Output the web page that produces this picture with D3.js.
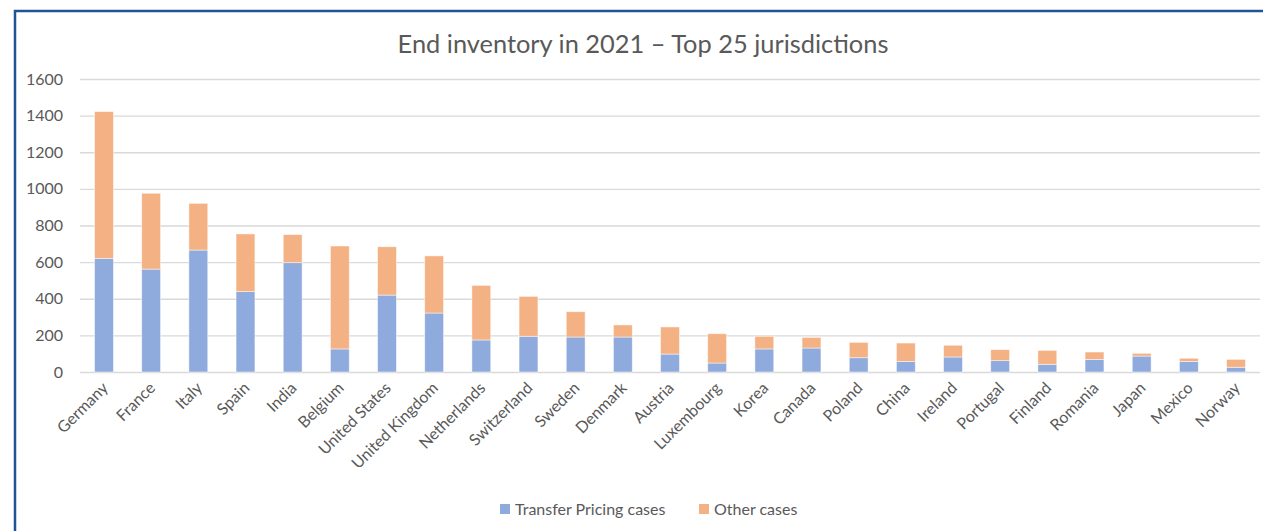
<!DOCTYPE html>
<html>
<head>
<meta charset="utf-8">
<script src="https://cdn.jsdelivr.net/npm/d3@7"></script>
<style>
  body { margin: 0; background: #fff; }
  text { font-family: Lato, "Liberation Sans", sans-serif; fill: #595959; }
</style>
</head>
<body>
<div id="chart"></div>
<script>
"use strict";

var countries = ["Germany", "France", "Italy", "Spain", "India", "Belgium", "United States",
  "United Kingdom", "Netherlands", "Switzerland", "Sweden", "Denmark", "Austria", "Luxembourg",
  "Korea", "Canada", "Poland", "China", "Ireland", "Portugal", "Finland", "Romania", "Japan",
  "Mexico", "Norway"];
var transferPricing = [620, 562, 666, 439, 597, 126, 420, 322, 175, 195, 191, 191, 98, 49,
  126, 131, 78, 58, 82, 62, 42, 69, 87, 58, 26];
var otherCases = [802, 414, 255, 315, 153, 562, 264, 312, 298, 218, 138, 66, 148, 160,
  69, 58, 84, 100, 64, 60, 76, 40, 15, 17, 43];
var yTicks = [0, 200, 400, 600, 800, 1000, 1200, 1400, 1600];
var seriesNames = ["Transfer Pricing cases", "Other cases"];
var colors = ["#8FAADC", "#F4B183"];

var w = 1263;
var h = 531;

var svg = d3.select("#chart")
  .append("svg")
  .attr("width", w)
  .attr("height", h);

// frame (clipped at right/bottom like the screenshot)
svg.append("rect")
  .attr("x", 15)
  .attr("y", 11)
  .attr("width", w + 20)
  .attr("height", h + 20)
  .attr("fill", "none")
  .attr("stroke", "#1F5596")
  .attr("stroke-width", 2.5);

svg.append("text")
  .attr("x", 643)
  .attr("y", 53)
  .attr("text-anchor", "middle")
  .style("font-size", "25.4px")
  .text("End inventory in 2021 \u2013 Top 25 jurisdictions");

var x = d3.scaleBand()
  .domain(countries)
  .range([80.4, 1259.6])
  .paddingInner(0.6)
  .paddingOuter(0.3);

var y = d3.scaleLinear()
  .domain([0, 1600])
  .range([372, 79]);

// gridlines
svg.append("g")
  .selectAll("line.grid")
  .data(yTicks).enter()
  .append("line")
  .attr("x1", 80)
  .attr("x2", 1260)
  .attr("y1", function(d) { return y(d) + 0.5; })
  .attr("y2", function(d) { return y(d) + 0.5; })
  .attr("stroke", "#D9D9D9")
  .attr("stroke-width", 1.3);

svg.append("g")
  .selectAll("text.ytick")
  .data(yTicks).enter()
  .append("text")
  .attr("x", 63)
  .attr("y", function(d) { return y(d) + 5.5; })
  .attr("text-anchor", "end")
  .style("font-size", "16px")
  .text(function(d) { return d; });

var rows = countries.map(function(c, i) {
  return { country: c, tp: transferPricing[i], other: otherCases[i] };
});
var stack = d3.stack().keys(["tp", "other"])(rows);

svg.append("g")
  .selectAll("g.series")
  .data(stack).enter()
  .append("g")
  .attr("fill", function(d, i) { return colors[i]; })
  .selectAll("rect")
  .data(function(d) { return d; }).enter()
  .append("rect")
  .attr("x", function(d) { return x(d.data.country); })
  .attr("width", x.bandwidth())
  .attr("y", function(d) { return y(d[1]); })
  .attr("height", function(d) { return y(d[0]) - y(d[1]); })
  .attr("stroke", "#fff")
  .attr("stroke-opacity", 0.6)
  .attr("stroke-width", 0.8);

// rotated category labels
svg.append("g")
  .selectAll("text.xlab")
  .data(countries).enter()
  .append("text")
  .attr("text-anchor", "end")
  .style("font-size", "16px")
  .attr("transform", function(d) {
    var cx = x(d) + x.bandwidth() / 2 + 5;
    return "translate(" + cx + ",389) rotate(-45)";
  })
  .text(function(d) { return d; });

// legend
var legend = svg.append("g");
var legendX = [500, 699];
seriesNames.forEach(function(name, i) {
  legend.append("rect")
    .attr("x", legendX[i])
    .attr("y", 504)
    .attr("width", 10)
    .attr("height", 10)
    .attr("fill", colors[i]);
  legend.append("text")
    .attr("x", legendX[i] + 15)
    .attr("y", 515)
    .style("font-size", "16px")
    .text(name);
});
</script>
</body>
</html>
